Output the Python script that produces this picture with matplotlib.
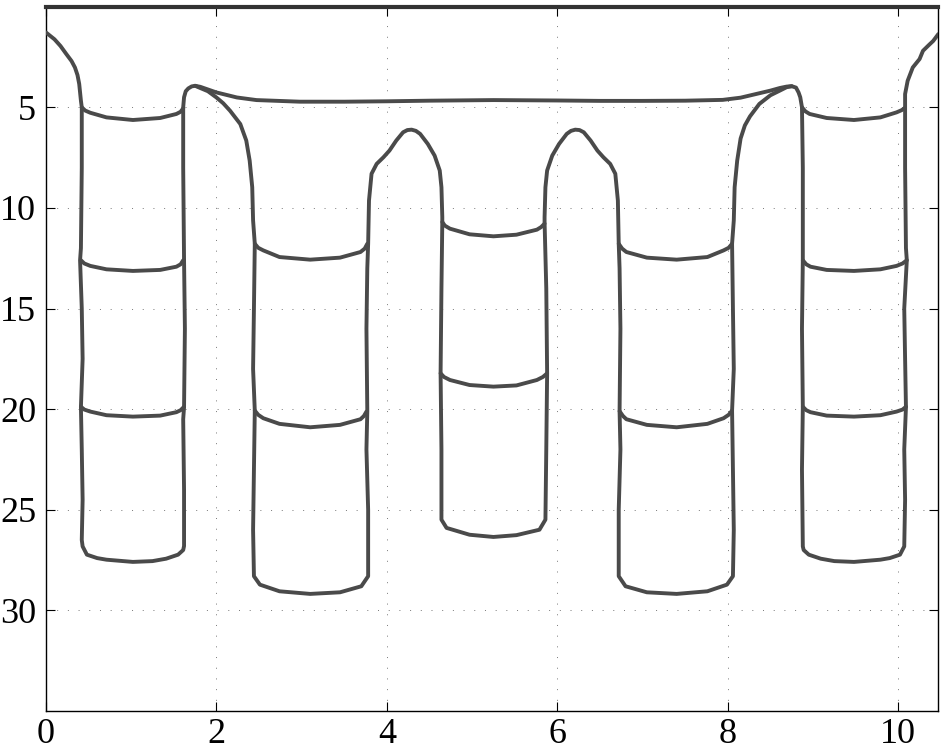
import matplotlib
matplotlib.use("Agg")
import matplotlib.pyplot as plt

# ---------------- data ----------------
# outer curve: left edge -> column 1 -> top surface -> column 5 -> right edge
outer_x = [0.00, 0.10, 0.17, 0.24, 0.30, 0.34, 0.37, 0.39, 0.41, 0.42,
           0.42, 0.41, 0.40, 0.42, 0.43, 0.41, 0.42, 0.43, 0.42, 0.43,
           0.48, 0.60, 0.71, 1.02, 1.25, 1.41, 1.55, 1.61, 1.62,
           1.62, 1.61, 1.62, 1.63, 1.62, 1.61, 1.61, 1.62, 1.64, 1.67, 1.71, 1.75,
           1.81, 2.00, 2.24, 2.47, 2.98, 3.50, 4.00, 4.50, 5.25, 6.00, 6.50, 7.00,
           7.50, 7.94, 8.15, 8.33, 8.50, 8.61, 8.69, 8.75, 8.80, 8.83, 8.85, 8.87,
           8.88, 8.88, 8.87, 8.88, 8.87, 8.88,
           8.89, 8.95, 9.09, 9.25, 9.48, 9.79, 9.90, 10.02, 10.07,
           10.08, 10.07, 10.09, 10.08, 10.07, 10.10, 10.09, 10.08, 10.08, 10.08,
           10.11, 10.17, 10.25, 10.29, 10.36, 10.41, 10.47]
outer_y = [1.28, 1.62, 1.95, 2.36, 2.70, 3.02, 3.40, 3.84, 4.67, 5.00,
           8.00, 12.00, 12.60, 15.00, 17.50, 19.90, 22.00, 24.50, 26.50, 26.82,
           27.23, 27.40, 27.48, 27.59, 27.55, 27.43, 27.23, 27.00, 26.80,
           24.00, 20.50, 19.90, 16.00, 12.60, 8.00, 5.00, 4.50, 4.20, 4.06, 3.96, 3.93,
           3.98, 4.26, 4.51, 4.64, 4.72, 4.72, 4.70, 4.67, 4.64, 4.66, 4.68, 4.68,
           4.67, 4.63, 4.52, 4.34, 4.17, 4.04, 3.97, 3.95, 4.02, 4.26, 4.50, 5.00,
           8.00, 12.60, 16.00, 19.90, 23.00, 26.82,
           27.00, 27.23, 27.43, 27.55, 27.59, 27.48, 27.40, 27.23, 26.82,
           24.50, 22.00, 19.90, 17.50, 15.00, 12.60, 12.00, 8.00, 5.00, 4.34,
           3.68, 3.02, 2.60, 2.19, 1.90, 1.70, 1.36]

# inner curve: left peak -> column 2 -> hump -> column 3 -> hump -> column 4 -> right peak
inner_x = [1.75, 1.81, 1.90, 2.00, 2.08, 2.16, 2.28, 2.35, 2.39, 2.42, 2.43, 2.45,
           2.44, 2.43, 2.45, 2.44, 2.43, 2.44,
           2.51, 2.74, 3.10, 3.45, 3.70, 3.78,
           3.78, 3.76, 3.77, 3.76, 3.77, 3.78,
           3.79, 3.82, 3.88, 3.96, 4.03, 4.11, 4.19, 4.24, 4.29, 4.34, 4.39, 4.48,
           4.56, 4.62, 4.64, 4.65, 4.65,
           4.64, 4.63, 4.64, 4.64,
           4.70, 4.97, 5.25, 5.52, 5.79, 5.86,
           5.87, 5.88, 5.87, 5.85,
           5.85, 5.86, 5.88, 5.94, 6.02, 6.11, 6.16, 6.21, 6.26, 6.31, 6.39, 6.47,
           6.54, 6.62, 6.68, 6.71, 6.72,
           6.73, 6.74, 6.73, 6.74, 6.72, 6.72,
           6.80, 7.05, 7.40, 7.76, 7.99, 8.06,
           8.07, 8.06, 8.05, 8.07, 8.06, 8.05,
           8.07, 8.08, 8.11, 8.15, 8.20, 8.26, 8.37, 8.50, 8.61, 8.69, 8.75]
inner_y = [3.93, 4.04, 4.20, 4.51, 4.80, 5.17, 5.83, 6.65, 7.65, 8.97, 10.62, 11.78,
           15.00, 18.00, 20.07, 23.00, 26.00, 28.30,
           28.72, 29.05, 29.18, 29.10, 28.80, 28.30,
           25.00, 22.00, 20.10, 16.00, 13.00, 11.78,
           9.63, 8.30, 7.81, 7.48, 7.15, 6.65, 6.24, 6.13, 6.11, 6.17, 6.32, 6.82,
           7.40, 8.14, 8.97, 10.46, 10.70,
           14.00, 18.22, 22.00, 25.49,
           25.90, 26.24, 26.35, 26.26, 25.99, 25.49,
           22.00, 18.22, 14.00, 10.70,
           10.46, 8.97, 8.14, 7.40, 6.82, 6.32, 6.17, 6.11, 6.13, 6.24, 6.65, 7.15,
           7.48, 7.81, 8.30, 9.63, 11.78,
           13.00, 16.00, 20.10, 22.00, 25.00, 28.30,
           28.80, 29.10, 29.18, 29.05, 28.72, 28.30,
           26.00, 23.00, 20.07, 18.00, 15.00, 11.78,
           10.62, 8.97, 7.65, 6.55, 5.90, 5.45, 4.83, 4.40, 4.17, 4.00, 3.95]

# separators inside the columns
c1s1_x = [0.42, 0.46, 0.52, 0.71, 1.02, 1.34, 1.53, 1.58, 1.61]
c1s1_y = [5.00, 5.16, 5.27, 5.50, 5.63, 5.53, 5.33, 5.22, 5.05]
c1s2_x = [0.41, 0.45, 0.52, 0.71, 1.02, 1.34, 1.53, 1.58, 1.61]
c1s2_y = [12.60, 12.76, 12.88, 13.05, 13.13, 13.08, 12.92, 12.80, 12.60]
c1s3_x = [0.41, 0.45, 0.52, 0.71, 1.02, 1.34, 1.53, 1.58, 1.62]
c1s3_y = [19.88, 20.02, 20.12, 20.30, 20.37, 20.32, 20.15, 20.05, 19.88]
c2s1_x = [2.45, 2.49, 2.55, 2.74, 3.10, 3.45, 3.69, 3.74, 3.77]
c2s1_y = [11.78, 11.98, 12.11, 12.44, 12.57, 12.47, 12.19, 12.02, 11.78]
c2s2_x = [2.45, 2.49, 2.55, 2.74, 3.10, 3.45, 3.69, 3.73, 3.76]
c2s2_y = [20.07, 20.28, 20.45, 20.73, 20.90, 20.78, 20.50, 20.34, 20.12]
c3s1_x = [4.65, 4.68, 4.74, 4.97, 5.25, 5.52, 5.76, 5.81, 5.85]
c3s1_y = [10.70, 10.88, 11.03, 11.31, 11.41, 11.33, 11.08, 10.95, 10.78]
c3s2_x = [4.63, 4.67, 4.74, 4.97, 5.25, 5.52, 5.76, 5.83, 5.88]
c3s2_y = [18.22, 18.40, 18.55, 18.80, 18.88, 18.82, 18.55, 18.40, 18.22]
c4s1_x = [6.72, 6.76, 6.81, 7.05, 7.40, 7.76, 7.95, 8.01, 8.05]
c4s1_y = [11.78, 12.02, 12.19, 12.47, 12.57, 12.44, 12.11, 11.98, 11.78]
c4s2_x = [6.73, 6.77, 6.81, 7.05, 7.40, 7.76, 7.95, 8.01, 8.05]
c4s2_y = [20.10, 20.34, 20.50, 20.78, 20.90, 20.73, 20.45, 20.28, 20.07]
c5s1_x = [8.87, 8.91, 8.96, 9.16, 9.48, 9.79, 9.98, 10.04, 10.08]
c5s1_y = [5.00, 5.20, 5.33, 5.53, 5.63, 5.50, 5.25, 5.14, 5.02]
c5s2_x = [8.88, 8.92, 8.97, 9.16, 9.48, 9.79, 9.98, 10.05, 10.10]
c5s2_y = [12.60, 12.80, 12.92, 13.08, 13.13, 13.05, 12.88, 12.76, 12.60]
c5s3_x = [8.88, 8.92, 8.97, 9.16, 9.48, 9.79, 9.98, 10.05, 10.09]
c5s3_y = [19.88, 20.05, 20.15, 20.32, 20.37, 20.30, 20.12, 20.02, 19.88]

x_ticks = [0, 2, 4, 6, 8, 10]
y_ticks = [5, 10, 15, 20, 25, 30]

# ---------------- drawing ----------------
fig = plt.figure(figsize=(9.46, 7.54), dpi=100)
ax = fig.add_axes([0.0486, 0.057, 0.9433, 0.9341])

col = "#4a4a4a"
lw = 2.8
curves = [(outer_x, outer_y), (inner_x, inner_y),
          (c1s1_x, c1s1_y), (c1s2_x, c1s2_y), (c1s3_x, c1s3_y),
          (c2s1_x, c2s1_y), (c2s2_x, c2s2_y),
          (c3s1_x, c3s1_y), (c3s2_x, c3s2_y),
          (c4s1_x, c4s1_y), (c4s2_x, c4s2_y),
          (c5s1_x, c5s1_y), (c5s2_x, c5s2_y), (c5s3_x, c5s3_y)]
for cx, cy in curves:
    ax.plot(cx, cy, color=col, lw=lw, solid_joinstyle="round",
            solid_capstyle="round", zorder=3)

ax.set_xlim(0, 10.47)
ax.set_ylim(35, 0)
ax.set_xticks(x_ticks)
ax.set_yticks(y_ticks)
ax.set_xticklabels([str(v) for v in x_ticks])
ax.set_yticklabels([str(v) for v in y_ticks])

ax.grid(True, color="#777777", linestyle=(0, (1, 10)), linewidth=0.7)
ax.set_axisbelow(True)

ax.tick_params(direction="in", length=6.5, width=0.8, top=True, right=True,
               labelsize=26, pad=7)
for lab in ax.get_xticklabels() + ax.get_yticklabels():
    lab.set_family(["Liberation Serif", "DejaVu Serif"])
ax.tick_params(axis="x", pad=5)

for s in ax.spines.values():
    s.set_linewidth(1.0)
    s.set_color("black")
ax.spines["top"].set_linewidth(3.0)
ax.spines["top"].set_color("#333333")

fig.savefig("out.png", dpi=100)
